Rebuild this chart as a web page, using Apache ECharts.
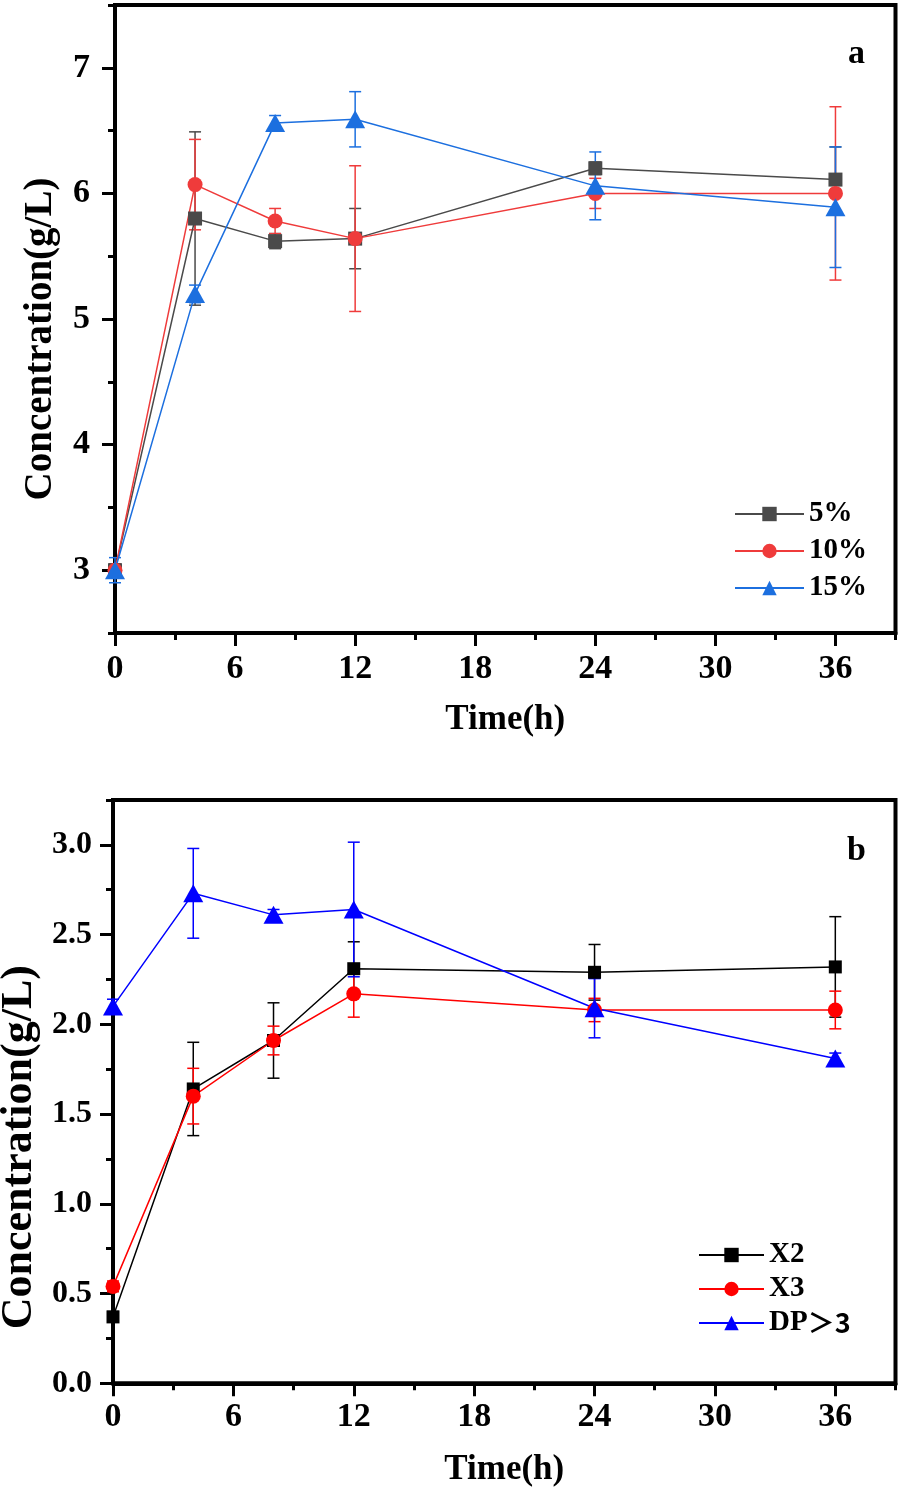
<!DOCTYPE html>
<html><head><meta charset="utf-8">
<script src="https://cdn.jsdelivr.net/npm/echarts@6/dist/echarts.min.js"></script>
<style>html,body{margin:0;padding:0;background:#fff}#c{width:898px;height:1491px}</style>
</head><body><div id="c"></div>
<script>
// ---------- data ----------
const hours = [0, 4, 8, 12, 24, 36];
const xTickLabels = [0, 6, 12, 18, 24, 30, 36];
const xRange = [0, 39];

// panel a
const aNames = ['5%', '10%', '15%'];
const a5 = [3.00, 5.80, 5.62, 5.64, 6.20, 6.11];
const a5err = [0.05, 0.69, 0.06, 0.24, 0.05, 0.26];
const a10 = [3.00, 6.07, 5.78, 5.64, 6.00, 6.00];
const a10err = [0.05, 0.36, 0.10, 0.58, 0.12, 0.69];
const a15 = [3.00, 5.20, 6.56, 6.59, 6.06, 5.89];
const a15err = [0.10, 0.07, 0.06, 0.22, 0.27, 0.48];
const aYTickLabels = [3, 4, 5, 6, 7];
const aYRange = [2.5, 7.5];

// panel b
const bNames = ['X2', 'X3', 'DP＞3'];
const bX2 = [0.37, 1.64, 1.91, 2.31, 2.29, 2.32];
const bX2err = [0.03, 0.26, 0.21, 0.15, 0.155, 0.28];
const bX3 = [0.54, 1.60, 1.91, 2.17, 2.08, 2.08];
const bX3err = [0.03, 0.155, 0.08, 0.13, 0.065, 0.105];
const bDP = [2.10, 2.73, 2.61, 2.64, 2.09, 1.81];
const bDPerr = [0.04, 0.25, 0.03, 0.375, 0.165, 0.03];
const bYTickLabels = [0.0, 0.5, 1.0, 1.5, 2.0, 2.5, 3.0];
const bYRange = [0, 3.25];

// ---------- layout ----------
const W = 898, H = 1491;
const FONT = "'Liberation Serif','Times New Roman',serif";
const gA = {left: 115, right: 2.5, top: 5, bottom: 858};
const gB = {left: 113, right: 2.5, top: 800, bottom: 107.7};

function overlay(g, xr, yr, xt, yt) {
  const pw = W - g.left - g.right, ph = H - g.top - g.bottom;
  const xPx = v => g.left + (v - xr[0]) / (xr[1] - xr[0]) * pw;
  const yPx = v => g.top + (yr[1] - v) / (yr[1] - yr[0]) * ph;
  return {
    grid: {left: g.left, right: W - xPx(xt[xt.length - 1]), top: yPx(yt[yt.length - 1]), bottom: H - yPx(yt[0]),
      show: false, outerBoundsMode: 'none', containLabel: false},
    xOffset: (H - g.bottom) - yPx(yt[0])
  };
}
const oA = overlay(gA, xRange, aYRange, xTickLabels, aYTickLabels);
const oB = overlay(gB, xRange, bYRange, xTickLabels, bYTickLabels);

const labelStyle = {fontFamily: FONT, fontWeight: 'bold', color: '#000'};

function mainX(gi, gap) {
  return {
    gridIndex: gi, type: 'value', min: xRange[0], max: xRange[1], interval: 3,
    axisLine: {onZero: false, lineStyle: {color: '#000', width: 4}},
    axisTick: {length: 7, lineStyle: {color: '#000', width: 3}},
    axisLabel: {show: false}, splitLine: {show: false},
    name: 'Time(h)', nameLocation: 'middle', nameGap: gap,
    nameTextStyle: Object.assign({fontSize: 35}, labelStyle)
  };
}
function mainY(gi, yr, step, gap, fs, pad) {
  return {
    gridIndex: gi, type: 'value', min: yr[0], max: yr[1], interval: step,
    axisLine: {onZero: false, lineStyle: {color: '#000', width: 4}},
    axisTick: {length: 7, lineStyle: {color: '#000', width: 3}},
    axisLabel: {show: false}, splitLine: {show: false},
    name: 'Concentration(g/L)', nameLocation: 'middle', nameGap: gap,
    nameTextStyle: Object.assign({fontSize: fs, padding: pad}, labelStyle)
  };
}
function ovX(gi, off, margin) {
  return {
    gridIndex: gi, type: 'value', min: xTickLabels[0], max: xTickLabels[xTickLabels.length - 1],
    interval: xTickLabels[1] - xTickLabels[0], offset: off,
    axisLine: {show: false, onZero: false},
    axisTick: {show: true, length: 13, lineStyle: {color: '#000', width: 3}},
    axisLabel: Object.assign({fontSize: 34, margin: margin}, labelStyle),
    splitLine: {show: false}
  };
}
function ovY(gi, ticks, dec, margin, fs) {
  return {
    gridIndex: gi, type: 'value', min: ticks[0], max: ticks[ticks.length - 1],
    interval: ticks[1] - ticks[0],
    axisLine: {show: false, onZero: false},
    axisTick: {show: true, length: 13, lineStyle: {color: '#000', width: 3}},
    axisLabel: Object.assign({fontSize: fs, margin: margin, formatter: v => v.toFixed(dec)}, labelStyle),
    splitLine: {show: false}
  };
}

function pts(v) { return hours.map((h, i) => [h, v[i]]); }
function errs(v, e) { return hours.map((h, i) => [h, v[i] - e[i], v[i] + e[i]]); }

function lineSeries(name, xi, yi, v, color, symbol, size) {
  return {
    name: name, type: 'line', xAxisIndex: xi, yAxisIndex: yi, data: pts(v),
    symbol: symbol, symbolSize: size, showSymbol: true,
    lineStyle: {color: color, width: 1.5}, itemStyle: {color: color},
    animation: false, z: 3
  };
}
function errSeries(name, xi, yi, v, e, color) {
  return {
    name: name, type: 'custom', xAxisIndex: xi, yAxisIndex: yi, data: errs(v, e),
    encode: {x: 0, y: [1, 2]}, animation: false, z: 3, silent: true,
    renderItem: function (params, api) {
      const x = api.value(0);
      const p1 = api.coord([x, api.value(1)]);
      const p2 = api.coord([x, api.value(2)]);
      const w = 6;
      const st = {stroke: color, lineWidth: 1.5};
      return {type: 'group', children: [
        {type: 'line', shape: {x1: p1[0], y1: p1[1], x2: p2[0], y2: p2[1]}, style: st},
        {type: 'line', shape: {x1: p1[0] - w, y1: p1[1], x2: p1[0] + w, y2: p1[1]}, style: st},
        {type: 'line', shape: {x1: p2[0] - w, y1: p2[1], x2: p2[0] + w, y2: p2[1]}, style: st}
      ]};
    }
  };
}

const cA = ['#4a4a4a', '#ef3b3b', '#1c6fdf'];
const cB = ['#000000', '#ff0000', '#0000ff'];
const gridFrame = {show: true, borderColor: '#000', borderWidth: 4, backgroundColor: 'transparent',
  outerBoundsMode: 'none', containLabel: false};

const option = {
  backgroundColor: '#fff',
  animation: false,
  grid: [
    Object.assign({}, gridFrame, gA),
    oA.grid,
    Object.assign({}, gridFrame, gB),
    oB.grid
  ],
  xAxis: [mainX(0, 69), ovX(1, oA.xOffset, 19), mainX(2, 69), ovX(3, oB.xOffset, 17)],
  yAxis: [
    mainY(0, aYRange, 0.5, 55, 39, [0, 40, 0, 0]),
    ovY(1, aYTickLabels, 0, 25, 34),
    mainY(2, bYRange, 0.25, 71, 44, [0, 111, 0, 0]),
    ovY(3, bYTickLabels, 1, 21, 32)
  ],
  legend: [
    {orient: 'vertical', left: 734, top: 499.5, itemWidth: 69, itemHeight: 18, itemGap: 8, padding: 0,
      data: aNames, selectedMode: false,
      textStyle: Object.assign({fontSize: 29}, labelStyle)},
    {orient: 'vertical', left: 698, top: 1240.5, itemWidth: 65, itemHeight: 18, itemGap: 5, padding: 0,
      data: bNames, selectedMode: false,
      formatter: n => n === 'DP＞3' ? 'DP{g|＞3}' : n,
      textStyle: Object.assign({fontSize: 29,
        rich: {g: {fontFamily: "'Noto Sans CJK SC'", fontWeight: 'bold', fontSize: 27, color: '#000'}}}, labelStyle)}
  ],
  graphic: [
    {type: 'text', left: 848, top: 37, style: {text: 'a', fontSize: 34, fill: '#000', fontFamily: FONT, fontWeight: 'bold'}},
    {type: 'text', left: 847, top: 834, style: {text: 'b', fontSize: 34, fill: '#000', fontFamily: FONT, fontWeight: 'bold'}}
  ],
  series: [
    errSeries('5% err', 0, 0, a5, a5err, cA[0]),
    lineSeries(aNames[0], 0, 0, a5, cA[0], 'rect', 14),
    errSeries('10% err', 0, 0, a10, a10err, cA[1]),
    lineSeries(aNames[1], 0, 0, a10, cA[1], 'circle', 15),
    errSeries('15% err', 0, 0, a15, a15err, cA[2]),
    lineSeries(aNames[2], 0, 0, a15, cA[2], 'triangle', [20, 18]),
    errSeries('X2 err', 2, 2, bX2, bX2err, cB[0]),
    lineSeries(bNames[0], 2, 2, bX2, cB[0], 'rect', 13),
    errSeries('X3 err', 2, 2, bX3, bX3err, cB[1]),
    lineSeries(bNames[1], 2, 2, bX3, cB[1], 'circle', 15),
    errSeries('DP err', 2, 2, bDP, bDPerr, cB[2]),
    lineSeries(bNames[2], 2, 2, bDP, cB[2], 'triangle', [20, 18])
  ]
};
const chart = echarts.init(document.getElementById('c'));
chart.setOption(option);
</script>
</body></html>
